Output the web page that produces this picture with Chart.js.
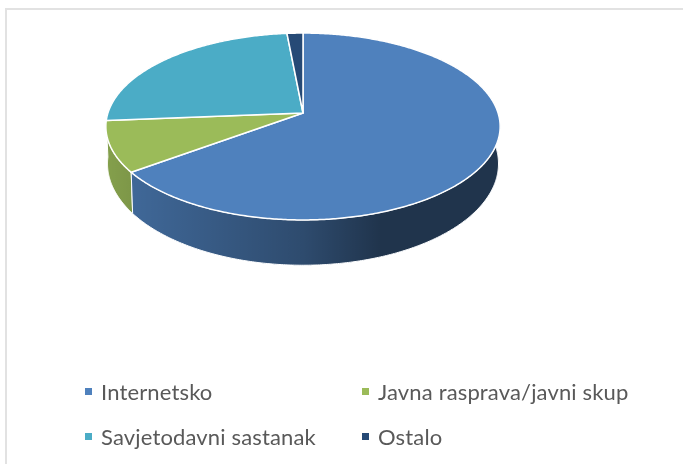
<!DOCTYPE html>
<html>
<head>
<meta charset="utf-8">
<script src="https://cdn.jsdelivr.net/npm/chart.js@4"></script>
<style>
html, body { margin: 0; padding: 0; background: #fff; }
#wrap { position: absolute; left: 5px; top: 8px; width: 678px; height: 456px; border-left: 2px solid #e2e2e2; border-top: 2px solid #e2e2e2; box-sizing: border-box; }
#pieChart { position: absolute; left: 0; top: 0; filter: blur(0.35px); }
#legend { position: absolute; left: 0; top: 0; font-family: Lato, sans-serif; font-size: 22px; color: #595959; filter: blur(0.3px); }
.item { position: absolute; white-space: nowrap; line-height: 26px; letter-spacing: 0.15px; }
.box { position: absolute; width: 7px; height: 7px; }
</style>
</head>
<body>
<div id="wrap"></div>
<canvas id="pieChart" width="683" height="464"></canvas>
<div id="legend"></div>
<script>
const categories = ['Internetsko', 'Javna rasprava/javni skup', 'Savjetodavni sastanak', 'Ostalo'];
const shares = [64.9, 8.8, 24.8, 1.5];
const sliceColors = ['#4f81bd', '#9bbb59', '#4bacc6', '#264a76'];

// legend is laid out in two fixed columns like the original
const legendColumns = [85, 362];
const legendRows = [392, 437];

// perspective of the tilted disc, all relative to the pie radius
const tilt = 0.1444;
const topPlane = { a: 2.032, b: 0.953, dy: 0 };
const bottomPlane = { a: 2.015, b: 1.036, dy: 0.375 };

function project(arc, plane, angle) {
    const u = Math.cos(angle);
    const v = Math.sin(angle);
    const w = 1 - tilt * v;
    return {
        x: arc.x + arc.outerRadius * plane.a * u / w,
        y: arc.y + arc.outerRadius * (plane.dy + plane.b * v / w)
    };
}

function traceRim(ctx, arc, plane, from, to) {
    const steps = Math.max(2, Math.ceil(Math.abs(to - from) / 0.01));
    for (let i = 0; i <= steps; i++) {
        const p = project(arc, plane, from + (to - from) * i / steps);
        ctx.lineTo(p.x, p.y);
    }
}

const pie3d = {
    id: 'pie3d',
    beforeDatasetsDraw(chart) {
        const ctx = chart.ctx;
        const arcs = chart.getDatasetMeta(0).data;
        const shade = ctx.createLinearGradient(107, 0, 500, 0);
        shade.addColorStop(0, 'rgba(0,0,0,0.15)');
        shade.addColorStop(0.07, 'rgba(0,0,0,0.2)');
        shade.addColorStop(0.5, 'rgba(0,0,0,0.42)');
        shade.addColorStop(0.7, 'rgba(0,0,0,0.6)');
        shade.addColorStop(1, 'rgba(0,0,0,0.6)');

        ctx.save();
        // side walls, back slices first so the front ones sit on top
        for (let i = arcs.length - 1; i >= 0; i--) {
            const arc = arcs[i];
            ctx.beginPath();
            traceRim(ctx, arc, topPlane, arc.startAngle, arc.endAngle);
            traceRim(ctx, arc, bottomPlane, arc.endAngle, arc.startAngle);
            ctx.closePath();
            ctx.fillStyle = arc.options.backgroundColor;
            ctx.fill();
            ctx.fillStyle = shade;
            ctx.fill();
            ctx.strokeStyle = arc.options.borderColor;
            ctx.lineWidth = 1;
            ctx.stroke();
        }
        // top face
        arcs.forEach(function(arc) {
            ctx.beginPath();
            ctx.moveTo(arc.x, arc.y);
            traceRim(ctx, arc, topPlane, arc.startAngle, arc.endAngle);
            ctx.closePath();
            ctx.fillStyle = arc.options.backgroundColor;
            ctx.fill();
            ctx.strokeStyle = arc.options.borderColor;
            ctx.lineWidth = arc.options.borderWidth;
            ctx.lineJoin = 'round';
            ctx.stroke();
        });
        ctx.restore();
        return false;
    }
};

const pieChart = new Chart(document.getElementById('pieChart').getContext('2d'), {
    type: 'pie',
    data: {
        labels: categories,
        datasets: [{
            data: shares,
            backgroundColor: sliceColors,
            borderColor: '#fff',
            borderWidth: 1.5
        }]
    },
    options: {
        responsive: false,
        animation: false,
        events: [],
        radius: 96,
        layout: { padding: { left: 207, right: 284, top: 17, bottom: 255 } },
        plugins: {
            legend: { display: false },
            tooltip: { enabled: false }
        }
    },
    plugins: [pie3d]
});

// html legend built from the chart's own legend items
const legendEl = document.getElementById('legend');
pieChart.options.plugins.legend.labels.generateLabels(pieChart).forEach(function(item, i) {
    const col = legendColumns[i % 2];
    const row = legendRows[Math.floor(i / 2)];
    const box = document.createElement('span');
    box.className = 'box';
    box.style.left = col + 'px';
    box.style.top = (row - 4) + 'px';
    box.style.background = item.fillStyle;
    const label = document.createElement('span');
    label.className = 'item';
    label.style.left = (col + 16) + 'px';
    label.style.top = (row - 13) + 'px';
    label.textContent = item.text;
    legendEl.appendChild(box);
    legendEl.appendChild(label);
});
</script>
</body>
</html>
